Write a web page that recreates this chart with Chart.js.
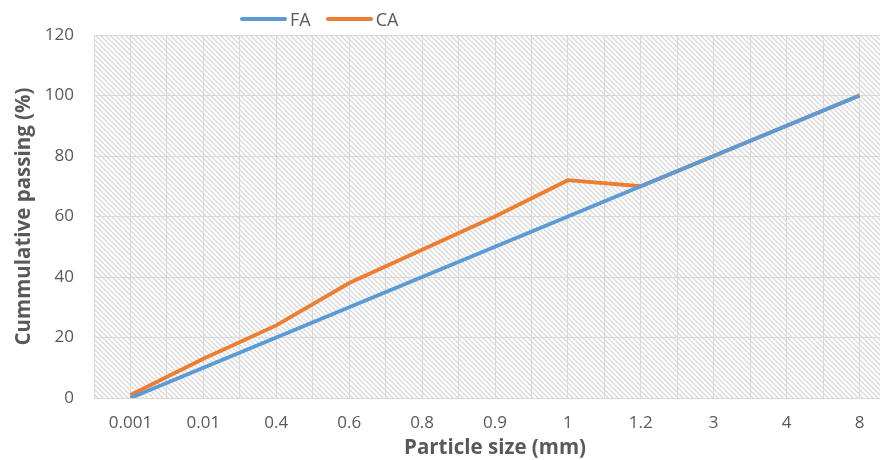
<!DOCTYPE html>
<html>
<head>
<meta charset="utf-8">
<script src="https://cdn.jsdelivr.net/npm/chart.js@4"></script>
<style>
  html, body { margin: 0; padding: 0; background: #fff; overflow: hidden; }
  #wrap { position: relative; width: 911px; height: 460px; }
  #legend { position: absolute; top: 7px; left: 240px; font: 18px "Open Sans", sans-serif; color: #595959; display: flex; gap: 15px; }
  #legend span.item { display: flex; align-items: center; }
  #legend i { display: inline-block; width: 47px; height: 4px; border-radius: 2px; margin-right: 3px; }
</style>
</head>
<body>
<div id="wrap">
  <canvas id="chart" width="911" height="460"></canvas>
  <div id="legend"></div>
</div>
<script>
// particle sizes on the x axis (category labels)
const sizes = ['0.001', '0.01', '0.4', '0.6', '0.8', '0.9', '1', '1.2', '3', '4', '8'];
// cumulative passing (%)
const faValues = [0, 10, 20, 30, 40, 50, 60, 70, 80, 90, 100];
const caValues = [1, 13, 24, 38, 49, 60, 72, 70, 80, 90, 100];
const yTicks = [0, 20, 40, 60, 80, 100, 120];

const seriesNames = ['FA', 'CA'];
const seriesColors = ['#5B9BD5', '#ED7D31'];

const toPoints = vals => vals.map((v, i) => ({ x: i, y: v }));

// hatched plot background
const hatch = {
  id: 'hatch',
  beforeDraw(chart) {
    const { ctx, chartArea: a } = chart;
    const tile = document.createElement('canvas');
    tile.width = 5; tile.height = 5;
    const t = tile.getContext('2d');
    t.strokeStyle = '#d9d9d9';
    t.lineWidth = 1.3;
    t.beginPath();
    t.moveTo(-1, -1); t.lineTo(6, 6);
    t.moveTo(-1, 4); t.lineTo(1, 6);
    t.moveTo(4, -1); t.lineTo(6, 1);
    t.stroke();
    ctx.save();
    ctx.fillStyle = ctx.createPattern(tile, 'repeat');
    ctx.fillRect(a.left, a.top, a.right - a.left, a.bottom - a.top);
    ctx.restore();
  }
};

new Chart(document.getElementById('chart'), {
  type: 'line',
  data: {
    datasets: [
      { label: seriesNames[0], data: toPoints(faValues), borderColor: seriesColors[0], borderWidth: 3.8, pointRadius: 0, tension: 0 },
      { label: seriesNames[1], data: toPoints(caValues), borderColor: seriesColors[1], borderWidth: 3.8, pointRadius: 0, tension: 0 }
    ]
  },
  options: {
    responsive: false,
    animation: false,
    layout: { padding: { top: 35, right: 0, left: 0, bottom: 0 } },
    plugins: { legend: { display: false }, tooltip: { enabled: false } },
    scales: {
      x: {
        type: 'linear',
        min: -0.5,
        max: sizes.length - 0.5,
        afterFit(s) { s.height = 62; },
        afterBuildTicks(s) {
          const t = [];
          for (let v = -0.5; v <= sizes.length - 0.5; v += 0.5) t.push({ value: v });
          s.ticks = t;
        },
        grid: { color: '#d9d9d9', lineWidth: 1, drawTicks: false },
        border: { color: '#d9d9d9' },
        ticks: {
          autoSkip: false,
          maxRotation: 0,
          padding: 15,
          color: '#595959',
          font: { family: 'Open Sans', size: 17 },
          callback: v => Number.isInteger(v) ? sizes[v] : ''
        },
        title: {
          display: true,
          text: 'Particle size (mm)',
          color: '#595959',
          font: { family: 'Open Sans', size: 20.5, weight: 'bold' },
          padding: { top: 0, bottom: 0 }
        }
      },
      y: {
        min: 0,
        max: 120,
        afterFit(s) { s.width = 94; },
        afterBuildTicks(s) { s.ticks = yTicks.map(v => ({ value: v })); },
        grid: { color: '#d9d9d9', lineWidth: 1, drawTicks: false },
        border: { color: '#d9d9d9' },
        ticks: {
          padding: 20,
          color: '#595959',
          font: { family: 'Open Sans', size: 17 }
        },
        title: {
          display: true,
          text: 'Cummulative passing (%)',
          color: '#595959',
          font: { family: 'Open Sans', size: 20.5, weight: 'bold' },
          padding: { top: 12, bottom: 0 }
        }
      }
    }
  },
  plugins: [hatch]
});

document.getElementById('legend').innerHTML = seriesNames.map((n, i) =>
  `<span class="item"><i style="background:${seriesColors[i]}"></i>${n}</span>`).join('');
</script>
</body>
</html>
